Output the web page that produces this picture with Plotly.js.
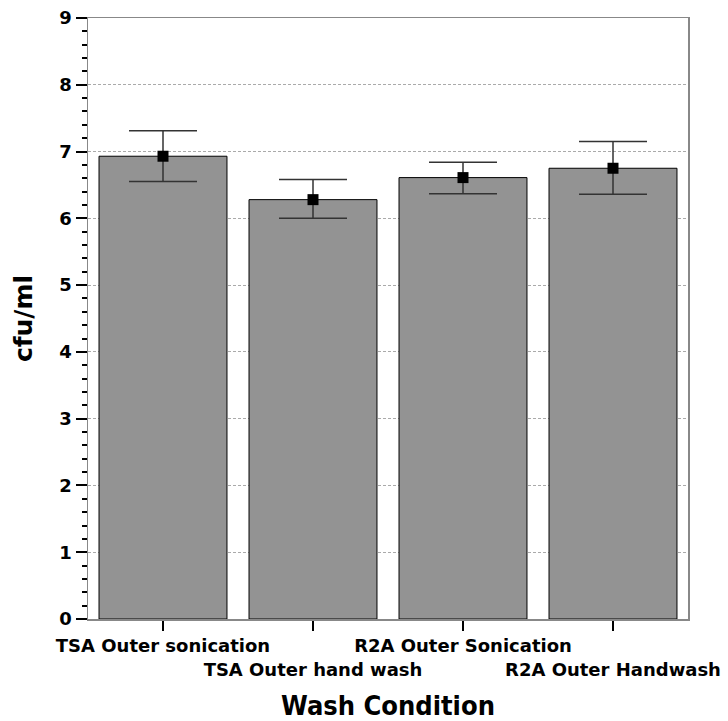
<!DOCTYPE html>
<html><head><meta charset="utf-8">
<script src="https://cdn.plot.ly/plotly-3.0.1.min.js"></script>
<style>body{margin:0;background:#fff}#c{width:728px;height:721px}</style>
</head><body><div id="c"></div>
<script>
var categories = ["TSA Outer sonication","TSA Outer hand wash","R2A Outer Sonication","R2A Outer Handwash"];
var tickLabels = ["TSA Outer sonication","<br>TSA Outer hand wash","R2A Outer Sonication","<br>R2A Outer Handwash"];
var means = [6.93, 6.28, 6.61, 6.75];
var errPlus = [0.38, 0.30, 0.23, 0.40];
var errMinus = [0.38, 0.28, 0.24, 0.39];

var traces = [
  {type:"bar", x:categories, y:means,
   marker:{color:"#939393", line:{color:"#000", width:1}},
   hoverinfo:"skip", showlegend:false},
  {type:"scatter", mode:"markers", x:categories, y:means,
   marker:{symbol:"square", size:11, color:"#000"},
   error_y:{type:"data", symmetric:false, array:errPlus, arrayminus:errMinus,
            color:"#333", thickness:1.5, width:34},
   showlegend:false}
];
var layout = {
  width:728, height:721,
  margin:{l:88, r:40, t:18, b:102},
  paper_bgcolor:"#fff", plot_bgcolor:"#fff",
  bargap:0.147,
  font:{family:"DejaVu Sans, sans-serif", color:"#000"},
  xaxis:{
    tickmode:"array", tickvals:categories, ticktext:tickLabels, tickangle:0,
    ticks:"outside", ticklen:10, tickwidth:2, tickcolor:"#000",
    showline:true, linecolor:"#888", linewidth:1.5, mirror:true,
    tickfont:{family:"DejaVu Sans, sans-serif", size:18, weight:"bold"},
    title:{text:"Wash Condition", font:{family:"DejaVu Sans Condensed, DejaVu Sans, sans-serif", size:27, weight:"bold"}, standoff:20},
    showgrid:false, zeroline:false
  },
  yaxis:{
    range:[0,9], dtick:1, tick0:0,
    ticks:"outside", ticklen:11, tickwidth:2, tickcolor:"#000",
    minor:{dtick:0.2, ticks:"outside", ticklen:5, tickwidth:2, tickcolor:"#000", showgrid:false},
    showline:true, linecolor:"#888", linewidth:1.5, mirror:true,
    tickfont:{family:"DejaVu Sans, sans-serif", size:18, weight:"bold"},
    showgrid:true, gridcolor:"#aaa", griddash:"3px,2px", gridwidth:1,
    zeroline:false,
    title:{text:"cfu/ml", font:{family:"DejaVu Sans, sans-serif", size:25, weight:"bold"}, standoff:19}
  }
};
Plotly.newPlot("c", traces, layout, {displayModeBar:false, staticPlot:true});
</script></body></html>
